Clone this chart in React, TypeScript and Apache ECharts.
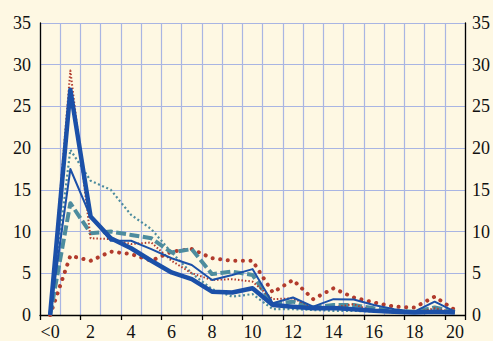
import React, { useEffect, useRef } from "react";
import * as echarts from "echarts";

const categories = ["<0", "1", "2", "3", "4", "5", "6", "7", "8", "9", "10", "11", "12", "13", "14", "15", "16", "17", "18", "19", "20"];
const yTicks = { min: 0, max: 35, interval: 5 };

const thickBlue = [0, 27.0, 11.8, 9.2, 8.0, 6.5, 5.1, 4.3, 2.8, 2.7, 3.2, 1.2, 1.0, 0.8, 0.85, 0.7, 0.5, 0.4, 0.3, 0.4, 0.3];
const thinBlue = [0, 17.5, 11.8, 8.9, 8.9, 7.9, 6.8, 6.0, 4.2, 4.8, 5.5, 1.4, 2.1, 1.0, 1.9, 1.85, 1.2, 0.7, 0.4, 1.6, 0.4];
const redFine = [0, 29.3, 9.2, 9.1, 8.5, 8.7, 6.5, 5.0, 4.2, 4.3, 4.0, 1.9, 2.0, 0.9, 0.9, 1.3, 0.4, 0.3, 0.3, 0.8, 0.3];
const redDots = [0, 7.1, 6.5, 7.6, 7.3, 6.5, 7.6, 7.9, 6.8, 6.5, 6.5, 2.7, 4.2, 1.9, 3.2, 2.1, 1.5, 1.0, 0.9, 2.2, 0.6];
const tealDashed = [0, 13.4, 9.8, 10.0, 9.6, 9.2, 7.5, 7.9, 4.9, 5.2, 4.8, 1.3, 1.6, 0.9, 1.2, 1.2, 0.8, 0.5, 0.4, 0.9, 0.4];
const tealDotted = [0, 19.8, 16.1, 15.0, 12.0, 10.3, 7.5, 5.0, 3.1, 2.2, 2.5, 0.7, 0.7, 0.6, 0.5, 0.5, 0.4, 0.3, 0.3, 0.3, 0.3];

const BLUE = "#1b50a8";
const RED = "#b23b2c";
const TEAL = "#4d8c9e";
const GRID = "#a9b5e3";
const FONT = "Times New Roman";

export default function App() {
  const ref = useRef<HTMLDivElement>(null);
  useEffect(() => {
    if (!ref.current) return;
    const chart = echarts.init(ref.current, null, { renderer: "svg" });
    const line = (name: string, data: number[], color: string, width: number, type: any, cap: any = "butt", z = 2) => ({
      name,
      type: "line",
      data,
      showSymbol: false,
      symbol: "none",
      z,
      lineStyle: { color, width, type, cap, join: "round" },
    });
    const label = (margin: number) => ({ color: "#111", fontFamily: FONT, fontSize: 18, margin });
    chart.setOption({
      animation: false,
      backgroundColor: "#fef8e3",
      textStyle: { fontFamily: FONT },
      grid: { left: 40, right: 21, top: 23, bottom: 26 },
      xAxis: {
        type: "category",
        data: categories,
        boundaryGap: true,
        axisLine: { show: true, lineStyle: { color: "#000", width: 1.3 } },
        axisTick: { show: true, inside: false, length: 5, lineStyle: { color: "#000", width: 1.3 } },
        axisLabel: { interval: 1, ...label(8) },
        splitLine: { show: true, interval: 0, lineStyle: { color: GRID, width: 1.2 } },
      },
      yAxis: [
        {
          type: "value",
          ...yTicks,
          position: "left",
          axisLine: { show: true, lineStyle: { color: "#000", width: 1.3 } },
          axisTick: { show: false },
          axisLabel: label(9),
          splitLine: { show: true, lineStyle: { color: GRID, width: 1.2 } },
        },
        {
          type: "value",
          ...yTicks,
          position: "right",
          axisLine: { show: true, lineStyle: { color: "#000", width: 1.3 } },
          axisTick: { show: false },
          axisLabel: label(7),
          splitLine: { show: false },
        },
      ],
      series: [
        line("redDots", redDots, RED, 4, [0.1, 7.5], "round", 2),
        line("tealDotted", tealDotted, TEAL, 2.2, [2, 2.5], "butt", 3),
        line("tealDashed", tealDashed, TEAL, 4, [10, 3.5], "butt", 4),
        line("redFine", redFine, RED, 2, [1.5, 2], "butt", 5),
        line("thinBlue", thinBlue, BLUE, 2, "solid", "butt", 6),
        line("thickBlue", thickBlue, BLUE, 4.5, "solid", "butt", 7),
      ],
    });
    return () => chart.dispose();
  }, []);
  return <div ref={ref} style={{ width: 493, height: 341, position: "absolute", left: 0, top: 0 }} />;
}
